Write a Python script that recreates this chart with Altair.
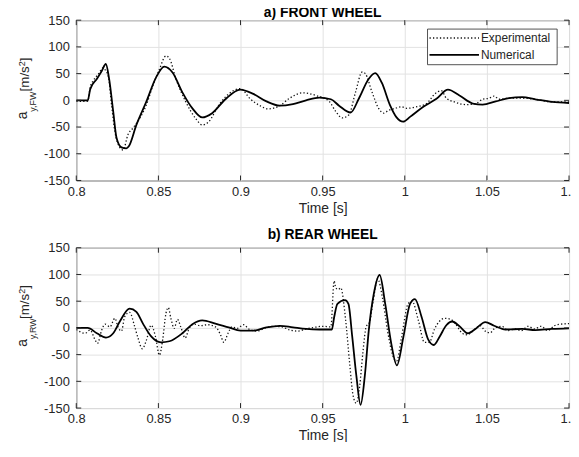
import altair as alt
import pandas as pd

FONT = "Liberation Sans"
INK = "#262626"
X_TICKS = [0.8, 0.85, 0.9, 0.95, 1.0, 1.05, 1.1]
Y_TICKS = [-150, -100, -50, 0, 50, 100, 150]
TITLES = ["a) FRONT WHEEL", "b) REAR WHEEL"]
SUBS = ["y,FW", "y,RW"]
SERIES = ["Experimental", "Numerical"]

# ---- a) front wheel ----
fw_num_t = [0.800, 0.807, 0.8085, 0.8125, 0.8155, 0.818, 0.820, 0.8225, 0.8245, 0.8275, 0.8305, 0.832,
            0.8366, 0.8426, 0.8486, 0.8536, 0.8586, 0.8646, 0.8707, 0.8767, 0.8827, 0.8908, 0.8998,
            0.9078, 0.9158, 0.9239, 0.9319, 0.9399, 0.948, 0.955, 0.960, 0.967, 0.972, 0.978, 0.982,
            0.986, 0.991, 0.995, 0.999, 1.0032, 1.0113, 1.0193, 1.0263, 1.0333, 1.0414, 1.0474, 1.0554,
            1.0634, 1.0715, 1.0795, 1.0896, 1.1]
fw_num_v = [0, 0, 21, 40, 55, 68, 40, -21, -70, -88, -90, -86,
            -46, -3, 43, 63, 52, 15, -15, -32, -24, 2, 20,
            12, -2, -10, -7, 0, 5, 2, -10, -23, 3, 40, 51,
            33, -9, -32, -40, -31, -12, 3, 20, 9, -6, -8, -2,
            4, 6, 2, -3, -5]

fw_exp_t = [0.800, 0.807, 0.8085, 0.8104, 0.8134, 0.8165, 0.818, 0.8195, 0.8215, 0.8235, 0.8265, 0.8285,
            0.8315, 0.8345, 0.8386, 0.8426, 0.8466, 0.8506, 0.8546, 0.8566, 0.8607, 0.8667, 0.8727,
            0.8767, 0.8807, 0.8867, 0.8928, 0.900, 0.9058, 0.9118, 0.9169, 0.9239, 0.9299, 0.9379,
            0.946, 0.954, 0.958, 0.962, 0.966, 0.970, 0.9741, 0.976, 0.9801, 0.9841, 0.9871, 0.990,
            0.9942, 0.998, 1.0012, 1.0072, 1.0133, 1.0183, 1.0223, 1.0253, 1.0303, 1.0373, 1.0434,
            1.0474, 1.0514, 1.0544, 1.0574, 1.0634, 1.0715, 1.0795, 1.0896, 1.1]
fw_exp_v = [-2, -2, 25, 37, 49, 61, 55, 45, -9, -58, -88, -93,
            -64, -52, -34, -9, 27, 58, 83, 79, 40, -3, -34,
            -46, -40, -9, 12, 22, 3, -10, -16, -10, 4, 14,
            9, -2, -21, -33, -27, 15, 53, 50, 15, -15, -24, -19,
            -15, -12, -15, -12, -6, 12, 18, 4, -3, -8, -6,
            2, 4, 8, 2, 4, 4, 2, -3, -3]

# ---- b) rear wheel ----
rw_num_t = [0.800, 0.807, 0.8125, 0.8181, 0.8225, 0.8265, 0.8325, 0.8366, 0.8406, 0.8456, 0.8516, 0.8567,
            0.8646, 0.8707, 0.8767, 0.8847, 0.8928, 0.900, 0.9078, 0.9158, 0.9239, 0.9319, 0.9399,
            0.948, 0.9556, 0.957, 0.959, 0.9636, 0.9657, 0.968, 0.9705, 0.9731, 0.9757, 0.9781,
            0.9811, 0.9847, 0.9881, 0.9917, 0.9952, 0.9992, 1.0032, 1.0062, 1.0102, 1.0143, 1.0177,
            1.0213, 1.0253, 1.0289, 1.0333, 1.0384, 1.0434, 1.049, 1.0544, 1.0614, 1.0715, 1.0795,
            1.0896, 1.1]
rw_num_v = [0, 0, -10, -18, -10, 12, 36, 30, 8, -16, -27, -25,
            -10, 7, 14, 8, 1, -5, -5, 1, 4, 1, -2,
            -3, -3, 20, 45, 52, 45, -16, -89, -144, -89, -4,
            63, 99, 45, -28, -70, -16, 45, 54, 21, -22, -32,
            -16, 5, 12, 3, -10, -1, 11, 4, -3, -2, -4,
            -2, -1]

rw_exp_t = [0.800, 0.8054, 0.8084, 0.8114, 0.8129, 0.8155, 0.8175, 0.8205, 0.8235, 0.8255, 0.8275, 0.8295,
            0.8325, 0.8356, 0.8376, 0.8402, 0.8426, 0.8456, 0.8482, 0.8506, 0.8526, 0.8546, 0.856,
            0.8576, 0.8596, 0.8616, 0.8636, 0.8663, 0.8687, 0.8717, 0.8757, 0.8797, 0.8847, 0.8877,
            0.8898, 0.8924, 0.8948, 0.8978, 0.902, 0.905, 0.910, 0.915, 0.920, 0.925, 0.930, 0.935,
            0.940, 0.945, 0.950, 0.955, 0.957, 0.958, 0.9596, 0.961, 0.964, 0.9664, 0.9685, 0.9705,
            0.9725, 0.9745, 0.9765, 0.9785, 0.9805, 0.9835, 0.9865, 0.9895, 0.9925, 0.995, 0.998,
            1.002, 1.0045, 1.0082, 1.012, 1.015, 1.018, 1.021, 1.0243, 1.028, 1.031, 1.035, 1.038,
            1.042, 1.046, 1.049, 1.052, 1.055, 1.059, 1.063, 1.067, 1.071, 1.075, 1.079, 1.083,
            1.087, 1.091, 1.095, 1.1]
rw_exp_v = [-3, -10, -4, -22, -29, -4, 7, 2, 18, 1, -6, 21,
            29, 2, -19, -39, -24, 5, -16, -51, -22, 27, 38,
            18, -1, 16, 2, -19, -1, 7, 4, 6, 2, -12,
            -27, -10, 2, -1, 6, -2, -6, 0, 3, 2, -4, -6,
            -2, 1, 3, 2, 88, 75, 72, 75, 15, -65, -126, -141,
            -110, -46, 2, 10, 45, 92, 55, -5, -50, -62, -18,
            45, 50, 15, -27, -27, -3, 12, 18, 16, 7, -10, -13,
            -4, 4, -6, -9, 0, 3, -5, -2, -5, 3, -2, 3,
            -5, 4, 7, 8]

W, H = 498, 162


def one(**kw):
    return alt.Chart(pd.DataFrame({"k": [0]})).mark_text(font=FONT, color=INK, **kw)


def panel(num_t, num_v, exp_t, exp_v, title, sub, legend, title_y):
    num = pd.DataFrame({"t": num_t, "v": num_v})
    exp = pd.DataFrame({"t": exp_t, "v": exp_v})
    xs = alt.Scale(domain=[0.8, 1.1], nice=False, zero=False)
    ys = alt.Scale(domain=[-150, 150], nice=False)
    xax = alt.Axis(values=X_TICKS, labelExpr="'' + datum.value", grid=True, ticks=False,
                   domain=False, title="Time [s]", labelPadding=5, titlePadding=3,
                   labelFlush=False, labelOverlap=False, labelFontSize=13, labelFont=FONT,
                   labelColor=INK, titleFont=FONT, titleFontSize=14, titleFontWeight="normal",
                   titleColor=INK, gridColor="#e2e2e2")
    yax = alt.Axis(values=Y_TICKS, labelExpr="'' + datum.value", grid=True, ticks=False,
                   domain=False, title=None, labelPadding=7, labelFlush=False,
                   labelOverlap=False, labelFontSize=13, labelFont=FONT, labelColor=INK,
                   gridColor="#e2e2e2")
    X = lambda: alt.X("t:Q", scale=xs, axis=xax)
    Y = lambda: alt.Y("v:Q", scale=ys, axis=yax)

    exp_line = alt.Chart(exp).mark_line(
        color="#111", strokeWidth=1.3, strokeDash=[1.3, 2.2], interpolate="monotone", clip=True
    ).encode(x=X(), y=Y())
    num_line = alt.Chart(num).mark_line(
        color="#000", strokeWidth=1.8, interpolate="monotone", clip=True
    ).encode(x=X(), y=Y())

    xt = pd.DataFrame({"t": X_TICKS})
    yt = pd.DataFrame({"v": Y_TICKS})
    tb = alt.Chart(xt).mark_rule(color=INK, strokeWidth=1).encode(
        x=X(), y=alt.value(H), y2=alt.value(H - 5))
    tt = alt.Chart(xt).mark_rule(color=INK, strokeWidth=1).encode(
        x=X(), y=alt.value(0), y2=alt.value(5))
    tl = alt.Chart(yt).mark_rule(color=INK, strokeWidth=1).encode(
        y=Y(), x=alt.value(0), x2=alt.value(5))
    tr = alt.Chart(yt).mark_rule(color=INK, strokeWidth=1).encode(
        y=Y(), x=alt.value(W), x2=alt.value(W - 5))

    # panel title
    t_title = alt.Chart(pd.DataFrame({"k": [0]})).mark_text(
        text=title, font=FONT, fontSize=14, fontWeight="bold", color="#000",
        align="center", baseline="alphabetic"
    ).encode(x=alt.value(W / 2), y=alt.value(title_y))

    # y-axis title with subscript / superscript
    t_a = one(text="a", angle=270, align="left", baseline="alphabetic", fontSize=14).encode(
        x=alt.value(-50), y=alt.value(100))
    t_sub = one(text=sub, angle=270, align="left", baseline="alphabetic", fontSize=9).encode(
        x=alt.value(-41), y=alt.value(92.5))
    t_unit = one(text="[m/s", angle=270, align="left", baseline="alphabetic", fontSize=13.5).encode(
        x=alt.value(-48), y=alt.value(72))
    t_sup = one(text="2", angle=270, align="left", baseline="alphabetic", fontSize=9).encode(
        x=alt.value(-51.5), y=alt.value(46.5))
    t_br = one(text="]", angle=270, align="left", baseline="alphabetic", fontSize=13.5).encode(
        x=alt.value(-48), y=alt.value(41.5))

    layers = [exp_line, num_line, tb, tt, tl, tr, t_title, t_a, t_sub, t_unit, t_sup, t_br]

    if legend:
        box = alt.Chart(pd.DataFrame({"k": [0]})).mark_rect(
            fill="white", stroke=INK, strokeWidth=0.8
        ).encode(x=alt.value(355), x2=alt.value(486), y=alt.value(9), y2=alt.value(45))
        l1 = alt.Chart(pd.DataFrame({"k": [0]})).mark_rule(
            color="#111", strokeWidth=1.3, strokeDash=[1.3, 2.2]
        ).encode(x=alt.value(357), x2=alt.value(407), y=alt.value(18))
        l2 = alt.Chart(pd.DataFrame({"k": [0]})).mark_rule(
            color="#000", strokeWidth=1.8
        ).encode(x=alt.value(357), x2=alt.value(407), y=alt.value(35))
        s1 = one(text=SERIES[0], align="left", baseline="middle", fontSize=12).encode(
            x=alt.value(409), y=alt.value(18))
        s2 = one(text=SERIES[1], align="left", baseline="middle", fontSize=12).encode(
            x=alt.value(409), y=alt.value(35))
        layers += [box, l1, l2, s1, s2]

    return alt.layer(*layers).properties(width=W, height=H)


top = panel(fw_num_t, fw_num_v, fw_exp_t, fw_exp_v, TITLES[0], SUBS[0], True, -3)
bot = panel(rw_num_t, rw_num_v, rw_exp_t, rw_exp_v, TITLES[1], SUBS[1], False, -9)

chart = alt.vconcat(top, bot, spacing=11).properties(
    padding={"left": 7, "top": -5, "right": -8, "bottom": -4},
    background="white",
).configure_view(stroke=INK, strokeWidth=1).configure_axis(labelOverlap=False)

chart.save("out.html", embed_options={"renderer": "svg", "actions": False})
